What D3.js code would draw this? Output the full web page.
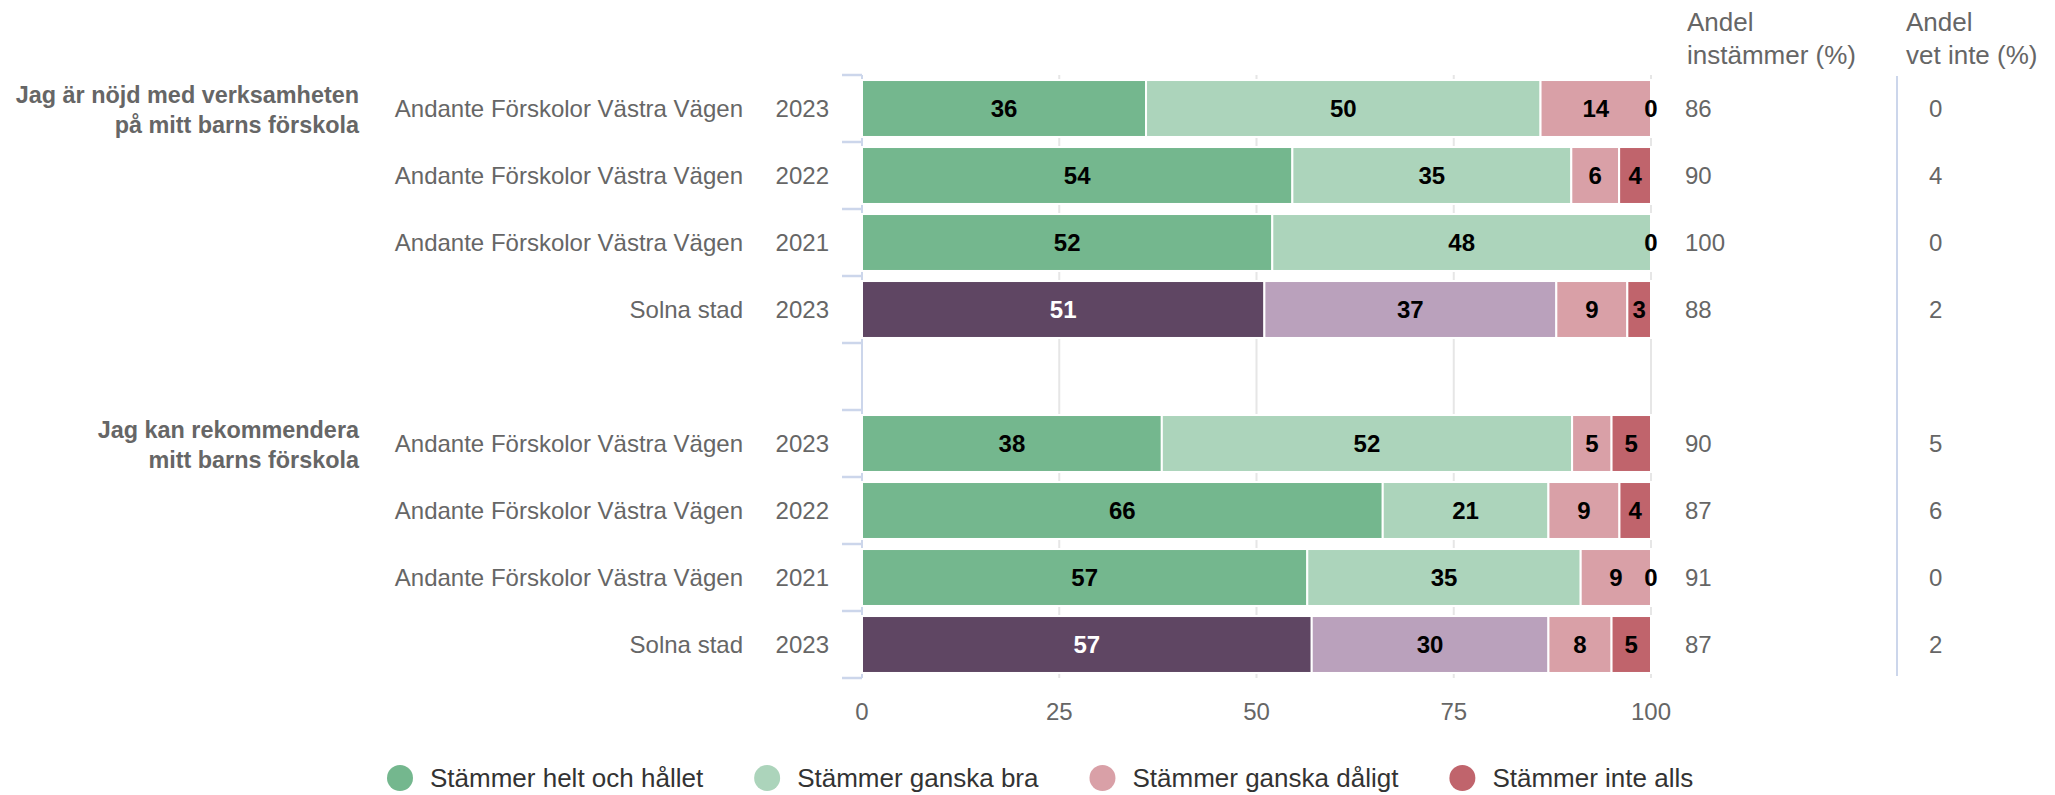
<!DOCTYPE html>
<html>
<head>
<meta charset="utf-8">
<script src="https://cdn.jsdelivr.net/npm/d3@7"></script>
<style>
  html, body { margin: 0; padding: 0; background: #fff; }
  svg { display: block; font-family: Arial, "Liberation Sans", sans-serif; }
</style>
</head>
<body>
<svg id="chart" width="2055" height="795"></svg>
<script>
// ---- data ----
const groupLabels = [
  ["Jag är nöjd med verksamheten", "på mitt barns förskola"],
  ["Jag kan rekommendera", "mitt barns förskola"]
];
const units = [
  "Andante Förskolor Västra Vägen", "Andante Förskolor Västra Vägen", "Andante Förskolor Västra Vägen", "Solna stad",
  "Andante Förskolor Västra Vägen", "Andante Förskolor Västra Vägen", "Andante Förskolor Västra Vägen", "Solna stad"
];
const years = ["2023", "2022", "2021", "2023", "2023", "2022", "2021", "2023"];
const rowGroup = [0, 0, 0, 0, 1, 1, 1, 1];
const isCity = [false, false, false, true, false, false, false, true];

const seriesNames = ["Stämmer helt och hållet", "Stämmer ganska bra", "Stämmer ganska dåligt", "Stämmer inte alls"];
const heltOchHallet = [36, 54, 52, 51, 38, 66, 57, 57];
const gansKaBra     = [50, 35, 48, 37, 52, 21, 35, 30];
const ganskaDaligt  = [14, 6, 0, 9, 5, 9, 9, 8];
const inteAlls      = [0, 4, 0, 3, 5, 4, 0, 5];
const andelInstammer = [86, 90, 100, 88, 90, 87, 91, 87];
const andelVetInte   = [0, 4, 0, 2, 5, 6, 0, 2];
const xTicks = [0, 25, 50, 75, 100];

const colors = ["#74b78e", "#acd4bb", "#d9a0a7", "#c0646c"];
const cityColors = ["#5f4663", "#baa1bc", "#d9a0a7", "#c0646c"];

// ---- build ----
const svg = d3.select("#chart");
const rowKeys = ["r0", "r1", "r2", "r3", "gap", "r4", "r5", "r6", "r7"];
const keyOf = i => "r" + i;

const y = d3.scaleBand().domain(rowKeys).range([75, 678]).paddingInner(0.15).paddingOuter(0.075);
const x = d3.scaleLinear().domain([0, 100]).range([862, 1651]);

const rows = units.map((u, i) => ({
  i, key: keyOf(i),
  s0: heltOchHallet[i], s1: gansKaBra[i], s2: ganskaDaligt[i], s3: inteAlls[i]
}));
const stack = d3.stack().keys(["s0", "s1", "s2", "s3"]).offset(d3.stackOffsetExpand);
const stacked = stack(rows);

const yTop = y.range()[0], yBot = y.range()[1];

// gridlines
svg.append("g").selectAll("line").data(xTicks).join("line")
  .attr("x1", d => x(d)).attr("x2", d => x(d))
  .attr("y1", yTop).attr("y2", yBot)
  .attr("stroke", "#e6e6e6").attr("stroke-width", 2);

// category axis line and boundary ticks
const step = y.step();
const boundaries = rowKeys.map(k => y(k) - step * y.paddingOuter()).concat([yBot]);
svg.append("line").attr("x1", x(0)).attr("x2", x(0)).attr("y1", yTop).attr("y2", yBot)
  .attr("stroke", "#ccd6eb").attr("stroke-width", 2);
svg.append("g").selectAll("line").data(boundaries).join("line")
  .attr("x1", x(0) - 20).attr("x2", x(0))
  .attr("y1", d => d).attr("y2", d => d)
  .attr("stroke", "#ccd6eb").attr("stroke-width", 2.5);

// bars
stacked.forEach((layer, si) => {
  svg.append("g").selectAll("rect").data(layer).join("rect")
    .attr("x", d => x(d[0] * 100))
    .attr("width", d => Math.max(0, x(d[1] * 100) - x(d[0] * 100)))
    .attr("y", d => y(d.data.key))
    .attr("height", y.bandwidth())
    .attr("fill", d => isCity[d.data.i] ? cityColors[si] : colors[si])
    .attr("stroke", "#fff").attr("stroke-width", 2);
});

// bar labels
const drawn = new Set();
stacked.forEach((layer, si) => {
  layer.forEach(d => {
    const v = d.data["s" + si];
    const cx = x((d[0] + d[1]) / 2 * 100);
    const tag = d.data.i + "_" + Math.round(cx);
    if (drawn.has(tag)) return;
    drawn.add(tag);
    const dark = isCity[d.data.i] && si === 0;
    svg.append("text")
      .attr("x", cx).attr("y", y(d.data.key) + y.bandwidth() / 2)
      .attr("dy", "0.35em").attr("text-anchor", "middle")
      .attr("font-size", 24).attr("font-weight", "bold")
      .attr("fill", dark ? "#fff" : "#000")
      .text(v);
  });
});

// x-axis labels
svg.append("g").selectAll("text").data(xTicks).join("text")
  .attr("x", d => x(d)).attr("y", 712).attr("dy", "0.35em")
  .attr("text-anchor", "middle").attr("font-size", 24).attr("fill", "#666")
  .text(d => d);

// category labels
rows.forEach(r => {
  const cy = y(r.key) + y.bandwidth() / 2;
  svg.append("text").attr("x", 743).attr("y", cy).attr("dy", "0.35em")
    .attr("text-anchor", "end").attr("font-size", 24).attr("fill", "#666").text(units[r.i]);
  svg.append("text").attr("x", 829).attr("y", cy).attr("dy", "0.35em")
    .attr("text-anchor", "end").attr("font-size", 24).attr("fill", "#666").text(years[r.i]);
  svg.append("text").attr("x", 1685).attr("y", cy).attr("dy", "0.35em")
    .attr("text-anchor", "start").attr("font-size", 24).attr("fill", "#666").text(andelInstammer[r.i]);
  svg.append("text").attr("x", 1929).attr("y", cy).attr("dy", "0.35em")
    .attr("text-anchor", "start").attr("font-size", 24).attr("fill", "#666").text(andelVetInte[r.i]);
});

// group labels
groupLabels.forEach((lines, g) => {
  const firstRow = rows.find(r => rowGroup[r.i] === g);
  const cy = y(firstRow.key) + y.bandwidth() / 2;
  lines.forEach((ln, li) => {
    svg.append("text").attr("x", 359).attr("y", cy - 14 + li * 30).attr("dy", "0.35em")
      .attr("text-anchor", "end").attr("font-size", 23.4).attr("font-weight", "bold")
      .attr("fill", "#666").text(ln);
  });
});

// right column headers and divider
const headers = [
  { x: 1687, lines: ["Andel", "instämmer (%)"] },
  { x: 1906, lines: ["Andel", "vet inte (%)"] }
];
headers.forEach(h => {
  h.lines.forEach((ln, li) => {
    svg.append("text").attr("x", h.x).attr("y", 22 + li * 33).attr("dy", "0.35em")
      .attr("font-size", 26).attr("fill", "#666").text(ln);
  });
});
svg.append("line").attr("x1", 1897).attr("x2", 1897).attr("y1", 76).attr("y2", 676)
  .attr("stroke", "#ccd6eb").attr("stroke-width", 2);

// legend
const legend = svg.append("g");
let lx = 387;
seriesNames.forEach((name, i) => {
  const g = legend.append("g");
  g.append("circle").attr("cx", lx + 13).attr("cy", 778).attr("r", 13).attr("fill", colors[i]);
  const t = g.append("text").attr("x", lx + 43).attr("y", 778).attr("dy", "0.35em")
    .attr("font-size", 26).attr("fill", "#333").text(name);
  const w = t.node().getComputedTextLength();
  lx = lx + 43 + w + 51;
});
</script>
</body>
</html>
